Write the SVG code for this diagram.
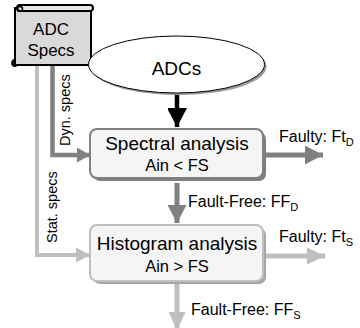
<svg xmlns="http://www.w3.org/2000/svg" width="360" height="328" viewBox="0 0 360 328">
<style>
text{font-family:"Liberation Sans",Arial,sans-serif;fill:#000}
.lbl{font-size:16px}
.rot{font-size:14.5px}
.big{font-size:19px}
.sm{font-size:16.5px}
.sub{font-size:11px}
</style>
<defs>
<marker id="ahD" viewBox="0 0 18 19" refX="18" refY="9.5" markerWidth="18" markerHeight="19" orient="auto" markerUnits="userSpaceOnUse"><path d="M0,0 L18,9.5 L0,19 z" fill="#808080"/></marker>
<marker id="ahL" viewBox="0 0 18 17" refX="18" refY="8.5" markerWidth="18" markerHeight="17" orient="auto" markerUnits="userSpaceOnUse"><path d="M0,0 L18,8.5 L0,17 z" fill="#bfbfbf"/></marker>
<marker id="ahDs" viewBox="0 0 13 15" refX="13" refY="7.5" markerWidth="13" markerHeight="15" orient="auto" markerUnits="userSpaceOnUse"><path d="M0,0 L13,7.5 L0,15 z" fill="#808080"/></marker>
<marker id="ahLs" viewBox="0 0 14 15" refX="14" refY="7.5" markerWidth="14" markerHeight="15" orient="auto" markerUnits="userSpaceOnUse"><path d="M0,0 L14,7.5 L0,15 z" fill="#bfbfbf"/></marker>
<marker id="ahK" viewBox="0 0 20 19" refX="19" refY="10" markerWidth="20" markerHeight="19" orient="auto" markerUnits="userSpaceOnUse"><path d="M0,0 L19,10 L0,20 z" fill="#000"/></marker>
</defs>
<g id="connectors" fill="none">
<polyline points="37,65 37,255 90,255" stroke="#bfbfbf" stroke-width="4" marker-end="url(#ahLs)"/>
<polyline points="52.5,65 52.5,155 90,155" stroke="#808080" stroke-width="4.5" marker-end="url(#ahDs)"/>
<line x1="177" y1="94" x2="177" y2="127" stroke="#000" stroke-width="4.5" marker-end="url(#ahK)"/>
<line x1="266" y1="155" x2="323" y2="155" stroke="#808080" stroke-width="5" marker-end="url(#ahD)"/>
<line x1="177" y1="183" x2="177" y2="223" stroke="#808080" stroke-width="5" marker-end="url(#ahD)"/>
<line x1="266" y1="256" x2="325" y2="256" stroke="#bfbfbf" stroke-width="5" marker-end="url(#ahL)"/>
<line x1="177" y1="284" x2="177" y2="330" stroke="#bfbfbf" stroke-width="5" marker-end="url(#ahL)"/>
<text class="rot" transform="translate(70,146) rotate(-90)">Dyn. specs</text>
<text class="rot" transform="translate(57,243) rotate(-90)">Stat. specs</text>
<text class="lbl" x="279" y="142">Faulty: Ft<tspan class="sub" dy="4">D</tspan></text>
<text class="lbl" x="188" y="207">Fault-Free: FF<tspan class="sub" dy="4">D</tspan></text>
<text class="lbl" x="279" y="242">Faulty: Ft<tspan class="sub" dy="4">S</tspan></text>
<text class="lbl" x="191" y="315">Fault-Free: FF<tspan class="sub" dy="4">S</tspan></text>
</g>
<g id="specs">
<rect x="15" y="8" width="76" height="57" fill="#d9d9d9" stroke="#000" stroke-width="2"/>
<rect x="17" y="5" width="76" height="6" rx="3" fill="#e8e8e8" stroke="#000" stroke-width="2"/>
<circle cx="20" cy="9" r="2.5" fill="none" stroke="#000" stroke-width="1.5"/>
<path d="M15,60 a3,3 0 1,0 3,4" fill="none" stroke="#000" stroke-width="2"/>
<circle cx="13" cy="63" r="1.5" fill="#000"/>
<text x="51" y="35" font-size="17" text-anchor="middle">ADC</text>
<text x="51" y="56" font-size="17" text-anchor="middle">Specs</text>
</g>
<g id="adcs">
<ellipse cx="178.5" cy="66.5" rx="88" ry="28.5" fill="#9a9a9a"/>
<ellipse cx="176.5" cy="64.5" rx="88" ry="28.5" fill="#fff" stroke="#000" stroke-width="1"/>
<text x="176.5" y="75" font-size="19" text-anchor="middle">ADCs</text>
</g>
<g id="spectral">
<rect x="93" y="132" width="173" height="49" rx="7" fill="#808080"/>
<rect x="90" y="129" width="173" height="49" rx="7" fill="#f5f5f5" stroke="#808080" stroke-width="2"/>
<text class="big" x="177" y="150" text-anchor="middle">Spectral analysis</text>
<text class="sm" x="177" y="171" text-anchor="middle">Ain &lt; FS</text>
</g>
<g id="histogram">
<rect x="93" y="228" width="173" height="56" rx="7" fill="#a6a6a6"/>
<rect x="90" y="225" width="173" height="56" rx="7" fill="#f5f5f5" stroke="#bfbfbf" stroke-width="2"/>
<text class="big" x="177" y="250" text-anchor="middle">Histogram analysis</text>
<text class="sm" x="177" y="272" text-anchor="middle">Ain &gt; FS</text>
</g>
</svg>
